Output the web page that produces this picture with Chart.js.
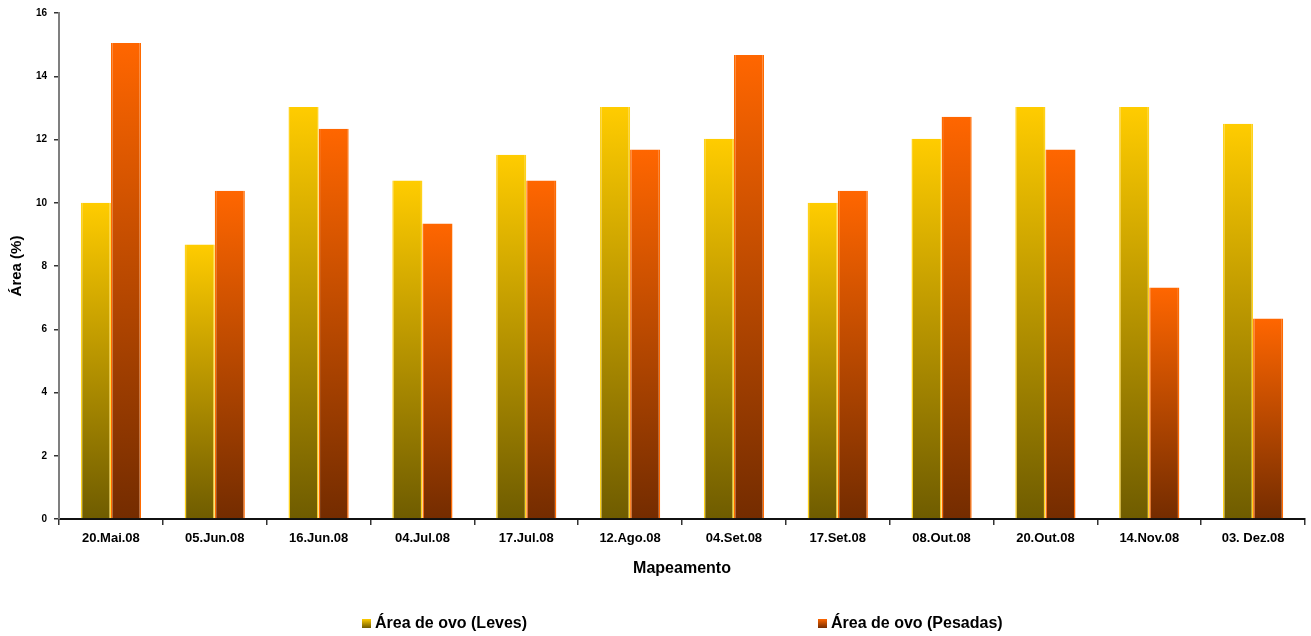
<!DOCTYPE html>
<html>
<head>
<meta charset="utf-8">
<script src="https://cdn.jsdelivr.net/npm/chart.js@4"></script>
<style>
  html, body { margin: 0; padding: 0; background: #fff; }
  #wrap { width: 1311px; height: 636px; }
</style>
</head>
<body>
<div id="wrap"><canvas id="c" width="1311" height="636"></canvas></div>
<script>
const categories = ['20.Mai.08', '05.Jun.08', '16.Jun.08', '04.Jul.08', '17.Jul.08', '12.Ago.08',
                    '04.Set.08', '17.Set.08', '08.Out.08', '20.Out.08', '14.Nov.08', '03. Dez.08'];
const leves   = [10.0, 8.68, 13.03, 10.7, 11.52, 13.03, 12.02, 10.0, 12.02, 13.03, 13.03, 12.5];
const pesadas = [15.05, 10.38, 12.34, 9.34, 10.7, 11.68, 14.67, 10.38, 12.72, 11.68, 7.32, 6.34];
const seriesNames = ['Área de ovo (Leves)', 'Área de ovo (Pesadas)'];
const yTicks = [0, 2, 4, 6, 8, 10, 12, 14, 16];

const FONT = "'Liberation Sans', Arial, sans-serif";
const palettes = [
  { top: '#FFCC00', bottom: '#6F5C00', edge: '#FFD21A' },
  { top: '#FF6600', bottom: '#742C00', edge: '#FF6A00' }
];

// vertical gradient spanning each bar from its top down to the baseline
function barGradient(ctx, pal) {
  const chart = ctx.chart;
  const y = chart.scales.y;
  if (!y || ctx.parsed == null) return pal.top;
  const top = y.getPixelForValue(ctx.parsed.y);
  const base = y.getPixelForValue(0);
  if (!isFinite(top) || !isFinite(base) || base - top < 1) return pal.top;
  const g = chart.ctx.createLinearGradient(0, top, 0, base);
  g.addColorStop(0, pal.top);
  g.addColorStop(1, pal.bottom);
  return g;
}

// legend drawn below the axis title, with two widely spaced entries
const bottomLegend = {
  id: 'bottomLegend',
  afterDraw(chart) {
    const ctx = chart.ctx;
    const xs = [362, 818];
    const yc = 623;
    ctx.save();
    ctx.font = 'bold 16px ' + FONT;
    ctx.textBaseline = 'middle';
    ctx.textAlign = 'left';
    chart.data.datasets.forEach((ds, i) => {
      const pal = palettes[i];
      const g = ctx.createLinearGradient(0, yc - 4, 0, yc + 5);
      g.addColorStop(0, pal.top);
      g.addColorStop(1, pal.bottom);
      ctx.fillStyle = g;
      ctx.fillRect(xs[i], yc - 4, 9, 9);
      ctx.fillStyle = '#000';
      ctx.fillText(ds.label, xs[i] + 13, yc + 1);
    });
    ctx.restore();
  }
};

new Chart(document.getElementById('c'), {
  type: 'bar',
  data: {
    labels: categories,
    datasets: [
      {
        label: seriesNames[0],
        data: leves,
        backgroundColor: (ctx) => barGradient(ctx, palettes[0]),
        borderColor: palettes[0].edge,
        borderWidth: { left: 1.5, right: 1.5, top: 0, bottom: 0 },
        borderSkipped: false,
        categoryPercentage: 0.58,
        barPercentage: 1.0
      },
      {
        label: seriesNames[1],
        data: pesadas,
        backgroundColor: (ctx) => barGradient(ctx, palettes[1]),
        borderColor: palettes[1].edge,
        borderWidth: { left: 1.5, right: 1.5, top: 0, bottom: 0 },
        borderSkipped: false,
        categoryPercentage: 0.58,
        barPercentage: 1.0
      }
    ]
  },
  options: {
    responsive: false,
    animation: false,
    layout: { padding: { top: 12, right: 6, bottom: 54, left: 0 } },
    plugins: {
      legend: { display: false },
      tooltip: { enabled: false }
    },
    scales: {
      x: {
        offset: true,
        grid: {
          display: true,
          offset: true,
          drawOnChartArea: false,
          drawTicks: true,
          tickLength: 6,
          color: '#333',
          lineWidth: 1.5
        },
        border: { display: true, color: '#111', width: 2 },
        ticks: {
          color: '#000',
          padding: 6,
          maxRotation: 0,
          autoSkip: false,
          font: { family: FONT, size: 13, weight: 'bold' }
        },
        title: {
          display: true,
          text: 'Mapeamento',
          color: '#000',
          padding: { top: 4, bottom: 4 },
          font: { family: FONT, size: 16, weight: 'bold' }
        },
        afterFit(scale) { scale.height = 63; }
      },
      y: {
        min: 0,
        max: 16,
        afterBuildTicks(scale) { scale.ticks = yTicks.map(v => ({ value: v })); },
        grid: {
          display: true,
          drawOnChartArea: false,
          drawTicks: true,
          tickLength: 5,
          color: '#333',
          lineWidth: 1.5
        },
        border: { display: true, color: '#7f7f7f', width: 2 },
        ticks: {
          color: '#000',
          padding: 7,
          font: { family: FONT, size: 10, weight: 'bold' }
        },
        title: {
          display: true,
          text: 'Área (%)',
          color: '#000',
          padding: { top: 8, bottom: 0 },
          font: { family: FONT, size: 15, weight: 'bold' }
        },
        afterFit(scale) { scale.width = 59; }
      }
    }
  },
  plugins: [bottomLegend]
});
</script>
</body>
</html>
